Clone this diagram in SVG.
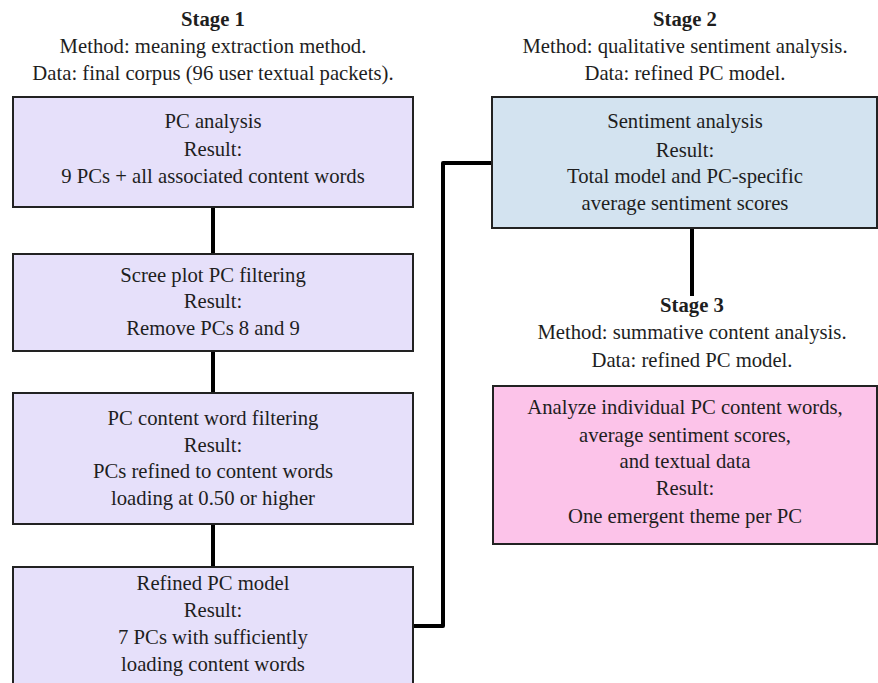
<svg xmlns="http://www.w3.org/2000/svg" width="878" height="683" viewBox="0 0 878 683">
<style>
text{font-family:"Liberation Serif","Times New Roman",serif;font-size:20.7px;fill:#1e1e1e;text-anchor:middle}
.h{font-weight:bold}
.box{stroke:#222;stroke-width:2}
.lav{fill:#e6e0fa}
.blue{fill:#d3e3f0}
.pink{fill:#fcc3e9}
.conn{fill:none;stroke:#000;stroke-width:4;stroke-linejoin:round}
</style>
<rect width="878" height="683" fill="#fff"/>
<g id="stage1-header">
<text class="h" x="213" y="26">Stage 1</text>
<text x="213" y="53">Method: meaning extraction method.</text>
<text x="213" y="80">Data: final corpus (96 user textual packets).</text>
</g>
<g id="stage2-header">
<text class="h" x="685" y="26">Stage 2</text>
<text x="685" y="53">Method: qualitative sentiment analysis.</text>
<text x="685" y="80">Data: refined PC model.</text>
</g>
<g id="stage3-header">
<text class="h" x="692" y="312">Stage 3</text>
<text x="692" y="339">Method: summative content analysis.</text>
<text x="692" y="367">Data: refined PC model.</text>
</g>
<g id="connectors">
<line class="conn" x1="213" y1="207" x2="213" y2="254"/>
<line class="conn" x1="213" y1="351" x2="213" y2="393"/>
<line class="conn" x1="213" y1="524" x2="213" y2="567"/>
<polyline class="conn" points="413,626 443,626 443,163 492,163"/>
<line class="conn" x1="692" y1="228" x2="692" y2="296"/>
</g>
<g id="pc-analysis">
<rect class="box lav" x="13" y="97" width="400" height="110"/>
<text x="213" y="128">PC analysis</text>
<text x="213" y="156">Result:</text>
<text x="213" y="183">9 PCs + all associated content words</text>
</g>
<g id="scree-plot">
<rect class="box lav" x="13" y="254" width="400" height="97"/>
<text x="213" y="282">Scree plot PC filtering</text>
<text x="213" y="308">Result:</text>
<text x="213" y="335">Remove PCs 8 and 9</text>
</g>
<g id="content-word-filtering">
<rect class="box lav" x="13" y="393" width="400" height="131"/>
<text x="213" y="425">PC content word filtering</text>
<text x="213" y="452">Result:</text>
<text x="213" y="478">PCs refined to content words</text>
<text x="213" y="505">loading at 0.50 or higher</text>
</g>
<g id="refined-model">
<rect class="box lav" x="13" y="567" width="400" height="130"/>
<text x="213" y="590">Refined PC model</text>
<text x="213" y="617">Result:</text>
<text x="213" y="644">7 PCs with sufficiently</text>
<text x="213" y="671">loading content words</text>
</g>
<g id="sentiment-analysis">
<rect class="box blue" x="492" y="97" width="385" height="131"/>
<text x="685" y="128">Sentiment analysis</text>
<text x="685" y="157">Result:</text>
<text x="685" y="183">Total model and PC-specific</text>
<text x="685" y="210">average sentiment scores</text>
</g>
<g id="theme-analysis">
<rect class="box pink" x="493" y="386" width="384" height="158"/>
<text x="685" y="414">Analyze individual PC content words,</text>
<text x="685" y="442">average sentiment scores,</text>
<text x="685" y="468">and textual data</text>
<text x="685" y="495">Result:</text>
<text x="685" y="523">One emergent theme per PC</text>
</g>
</svg>
